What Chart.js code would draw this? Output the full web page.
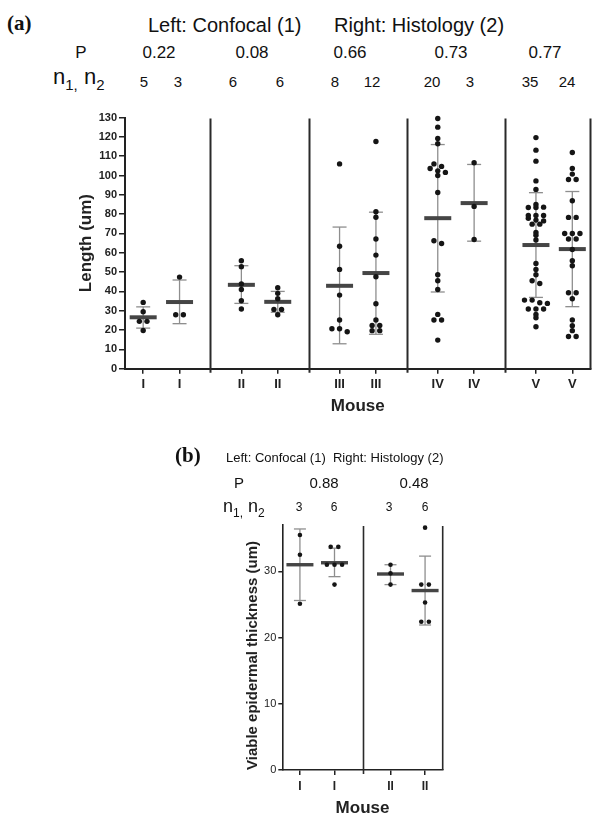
<!DOCTYPE html>
<html>
<head>
<meta charset="utf-8">
<script src="https://cdn.jsdelivr.net/npm/chart.js@4.4.0/dist/chart.umd.min.js"></script>
<style>
  body { margin: 0; background: #fff; width: 608px; height: 824px; position: relative; overflow: hidden;
         font-family: "Liberation Sans", Arial, sans-serif; color: #111; }
  canvas { position: absolute; left: 0; }
  .t { position: absolute; white-space: nowrap; line-height: 1; }
  .c { transform: translate(-50%, -50%); }
  .l { transform: translate(0, -50%); }
  .serif { font-family: "Liberation Serif", "Times New Roman", serif; font-weight: bold; }
</style>
</head>
<body>
<canvas id="chartA" width="608" height="320" style="top:100px"></canvas>
<canvas id="chartB" width="608" height="394" style="top:430px"></canvas>
<div id="head"></div>
<script>
// ---- panel (a): length per mouse, confocal (left) vs histology (right)
const mouseA = ["I", "I", "II", "II", "III", "III", "IV", "IV", "V", "V"];
const confocalI = [34.3, 29.5, 24.5, 24.5, 19.8];
const histologyI = [47.4, 27.9, 27.9];
const confocalII = [55.9, 52.8, 43.8, 41.0, 35.2, 30.9];
const histologyII = [41.9, 39.0, 36.2, 30.7, 30.7, 27.9];
const confocalIII = [106.0, 63.4, 51.4, 38.1, 25.2, 20.7, 20.7, 19.1];
const histologyIII = [117.6, 81.2, 78.4, 67.1, 58.8, 47.6, 33.6, 25.2, 22.4, 22.4, 19.7, 19.7];
const confocalIV = [129.5, 125.0, 119.1, 116.4, 106.0, 104.7, 103.6, 102.4, 101.6, 100.0,
  91.2, 66.2, 64.8, 48.6, 45.5, 41.0, 28.1, 25.2, 25.2, 14.8];
const histologyIV = [106.6, 84.0, 66.9];
const confocalV = [119.6, 113.1, 107.4, 97.2, 92.8, 85.0, 83.4, 83.4, 83.6, 79.3, 79.3, 79.3,
  77.8, 76.9, 76.5, 74.8, 74.8, 70.5, 69.1, 66.6, 54.5, 51.4, 48.6, 45.5, 44.1,
  35.5, 35.5, 34.1, 33.8, 30.9, 30.9, 30.9, 28.1, 26.4, 21.7];
const histologyV = [111.9, 103.6, 100.7, 97.9, 97.9, 86.9, 78.3, 78.3, 70.0, 70.0, 70.0, 67.1,
  67.1, 61.7, 55.9, 53.3, 39.3, 39.3, 36.2, 25.2, 22.2, 19.7, 16.7, 16.7];
const meanA = [26.6, 34.5, 43.4, 34.6, 42.9, 49.5, 77.9, 85.7, 64.0, 61.9];
const lowA = [21.0, 23.3, 33.8, 29.2, 12.9, 17.8, 39.7, 66.0, 36.9, 32.1];
const highA = [32.0, 45.9, 53.3, 40.0, 73.3, 81.0, 116.0, 105.7, 91.1, 91.7];
const yTicksA = [0, 10, 20, 30, 40, 50, 60, 70, 80, 90, 100, 110, 120, 130];
const pA = ["0.22", "0.08", "0.66", "0.73", "0.77"];
const nA = [5, 3, 6, 6, 8, 12, 20, 3, 35, 24];

// ---- panel (b): viable epidermal thickness
const mouseB = ["I", "I", "II", "II"];
const confocalBI = [35.5, 32.5, 25.1];
const histologyBI = [33.7, 33.7, 31.0, 31.0, 31.0, 28.0];
const confocalBII = [31.0, 29.7, 28.0];
const histologyBII = [36.6, 28.0, 28.0, 25.3, 22.4, 22.4];
const meanB = [31.0, 31.3, 29.6, 27.1];
const lowB = [25.6, 29.2, 28.0, 21.9];
const highB = [36.4, 33.5, 31.0, 32.3];
const yTicksB = [0, 10, 20, 30];
const pB = ["0.88", "0.48"];
const nB = [3, 6, 3, 6];

const SANS = '"Liberation Sans", Arial, sans-serif';

// x position of column i: pairs of columns, with a wider gap between mice
function columnX(i, gap) {
  return Math.floor(i / 2) * (1 + gap) + (i % 2);
}

// scatter dot plot: values falling in the same row are spread evenly around the column
function swarm(values, center, step, pxPerUnit, binPx) {
  const rows = {};
  values.forEach(v => {
    const r = Math.round(v * pxPerUnit / binPx);
    (rows[r] = rows[r] || []).push(v);
  });
  const out = [];
  Object.values(rows).forEach(row => {
    row.forEach((v, j) => out.push({ x: center + (j - (row.length - 1) / 2) * step, y: v }));
  });
  return out;
}

const dividerPlugin = {
  id: "dividers",
  beforeDatasetsDraw(chart, args, opts) {
    const { ctx, chartArea: a, scales: { x } } = chart;
    ctx.save();
    ctx.strokeStyle = opts.color;
    ctx.lineWidth = opts.width;
    ctx.beginPath();
    opts.at.forEach(v => {
      const px = Math.round(x.getPixelForValue(v)) + 0.5;
      ctx.moveTo(px, a.top + opts.topGap);
      ctx.lineTo(px, a.bottom + opts.below);
    });
    ctx.moveTo(a.right, a.top + opts.topGap);
    ctx.lineTo(a.right, a.bottom);
    ctx.stroke();
    ctx.restore();
  }
};

function makeChart(id, c) {
  const xs = c.labels.map((_, i) => columnX(i, c.gap));
  const dots = [];
  c.groups.forEach((g, i) => {
    swarm(g, xs[i], c.step, c.pxPerUnit, c.binPx).forEach(p => dots.push(p));
  });
  const datasets = [
    {
      data: dots, order: 0, clip: false,
      pointRadius: c.dotR, pointBackgroundColor: "#151515", pointBorderWidth: 0
    },
    {
      data: xs.map((x, i) => ({ x: x, y: c.means[i] })), order: 1, clip: false,
      pointStyle: "line", pointRadius: c.meanHalf,
      pointBorderColor: "#454545", pointBorderWidth: c.meanW
    }
  ];
  xs.forEach((x, i) => {
    datasets.push({
      data: [{ x: x, y: c.lows[i] }, { x: x, y: c.highs[i] }], order: 2, clip: false,
      showLine: true, borderColor: "#8e8e8e", borderWidth: 1.3,
      pointStyle: "line", pointRadius: c.capHalf,
      pointBorderColor: "#8e8e8e", pointBorderWidth: 1.3
    });
  });
  const dividers = [];
  for (let i = 1; i < xs.length - 1; i += 2) dividers.push((xs[i] + xs[i + 1]) / 2);

  return new Chart(document.getElementById(id), {
    type: "scatter",
    data: { datasets: datasets },
    plugins: [dividerPlugin],
    options: {
      responsive: false,
      animation: false,
      devicePixelRatio: 1,
      layout: { padding: c.padding },
      plugins: {
        legend: { display: false },
        tooltip: { enabled: false },
        dividers: { at: dividers, color: "#2a2a2a", width: c.axisW, topGap: 1, below: 4 }
      },
      scales: {
        x: {
          type: "linear",
          min: xs[0] - c.edge,
          max: xs[xs.length - 1] + c.edge,
          afterBuildTicks: s => { s.ticks = xs.map(v => ({ value: v })); },
          afterFit: s => { s.height = c.xHeight; },
          ticks: {
            autoSkip: false, maxRotation: 0, color: "#222", padding: c.xTickPad,
            font: { family: SANS, size: c.xTickSize, weight: "bold" },
            callback: (v, i) => c.labels[i]
          },
          grid: { drawOnChartArea: false, tickLength: 5, color: "#222", lineWidth: 1.5 },
          border: { color: "#222", width: c.axisW },
          title: {
            display: true, text: "Mouse", color: "#222",
            font: { family: SANS, size: 17, weight: "bold" },
            padding: { top: 0, bottom: c.xTitlePad }
          }
        },
        y: {
          min: 0, max: c.yMax,
          afterBuildTicks: s => { s.ticks = c.yTicks.map(v => ({ value: v })); },
          afterFit: s => { s.width = c.yWidth; },
          ticks: {
            color: "#222", padding: 2,
            font: { family: SANS, size: 11, weight: c.yTickWeight }
          },
          grid: { drawOnChartArea: false, tickLength: c.yTickLen, color: "#222", lineWidth: 1.5 },
          border: { color: "#222", width: c.axisW },
          title: {
            display: true, text: c.yTitle, color: "#222", align: c.yTitleAlign,
            font: { family: SANS, size: c.yTitleSize, weight: "bold" },
            padding: { top: c.yTitlePad, bottom: 0 }
          }
        }
      }
    }
  });
}

makeChart("chartA", {
  labels: mouseA, gap: 1.7, edge: 0.5,
  groups: [confocalI, histologyI, confocalII, histologyII, confocalIII, histologyIII,
    confocalIV, histologyIV, confocalV, histologyV],
  means: meanA, lows: lowA, highs: highA,
  yMax: 130, yTicks: yTicksA, yTitle: "Length (um)", yTitleSize: 17, yTitlePad: 6, yTitleAlign: "center",
  yTickWeight: "bold", yTickLen: 6, yWidth: 55, xHeight: 51.3,
  xTickSize: 13, xTickPad: 3, xTitlePad: 3,
  padding: { left: 70, right: 11, top: 17.3, bottom: 0 },
  step: 0.21, pxPerUnit: 1.934, binPx: 5.5,
  dotR: 2.7, meanHalf: 13.5, meanW: 4, capHalf: 7, axisW: 2
});

makeChart("chartB", {
  labels: mouseB, gap: 1.62, edge: 0.51,
  groups: [confocalBI, histologyBI, confocalBII, histologyBII],
  means: meanB, lows: lowB, highs: highB,
  yMax: 37, yTicks: yTicksB, yTitle: "Viable epidermal thickness (um)", yTitleSize: 15, yTitlePad: 3.8,
  yTitleAlign: "start",
  yTickWeight: "normal", yTickLen: 4, yWidth: 42.3, xHeight: 54,
  xTickSize: 12, xTickPad: 4, xTitlePad: 5.8,
  padding: { left: 240, right: 165.3, top: 95, bottom: 0 },
  step: 0.22, pxPerUnit: 6.61, binPx: 5,
  dotR: 2.3, meanHalf: 13.5, meanW: 3.4, capHalf: 6, axisW: 1.6
});

// ---- header texts above both panels
const head = document.getElementById("head");
function addText(html, x, y, cls, size) {
  const d = document.createElement("div");
  d.className = "t " + cls;
  d.style.left = x + "px";
  d.style.top = y + "px";
  d.style.fontSize = size + "px";
  d.innerHTML = html;
  head.appendChild(d);
}
const nLabel = (big, small) =>
  `<span style="font-size:${big}px">n</span><span style="font-size:${small}px;vertical-align:-0.35em">1,</span>` +
  ` <span style="font-size:${big}px">n</span><span style="font-size:${small}px;vertical-align:-0.35em">2</span>`;

addText("(a)", 7, 23, "l serif", 21);
addText("Left: Confocal (1)", 148, 25, "l", 20);
addText("Right: Histology (2)", 334, 25, "l", 20);
addText("P", 81, 52, "c", 17);
const pxA = [159, 252, 350, 451, 545];
pA.forEach((p, i) => addText(p, pxA[i], 52, "c", 17));
addText(nLabel(22, 15), 53, 79, "l", 22);
const nxA = [144, 178, 233, 280, 335, 372, 432, 470, 530, 567];
nA.forEach((n, i) => addText(n, nxA[i], 81, "c", 15));

addText("(b)", 175, 455, "l serif", 21);
addText("Left: Confocal (1)&nbsp; Right: Histology (2)", 226, 457, "l", 13);
addText("P", 239, 482, "c", 15);
const pxB = [324, 414];
pB.forEach((p, i) => addText(p, pxB[i], 482, "c", 15));
addText(nLabel(18, 12), 223, 508, "l", 18);
const nxB = [299, 334, 389, 425];
nB.forEach((n, i) => addText(n, nxB[i], 507, "c", 12));
</script>
</body>
</html>
